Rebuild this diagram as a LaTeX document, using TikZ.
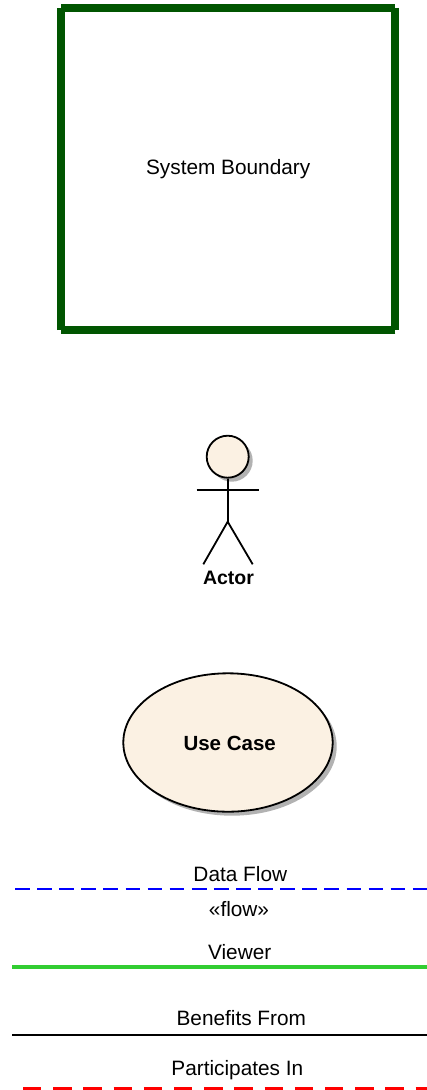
\documentclass[tikz,border=0pt]{standalone}
\usepackage{fontspec}
\setmainfont{Liberation Sans}
\usetikzlibrary{shadows, shapes.geometric}

\definecolor{bdgreen}{HTML}{005500}
\definecolor{ucfill}{HTML}{FBF1E3}
\definecolor{vwgreen}{HTML}{32CD32}

\begin{document}
\begin{tikzpicture}[x=1pt, y=-1pt,
      lbl/.style={anchor=base, inner sep=0pt, font=\fontsize{20.8}{24}\selectfont},
      bold/.style={lbl, font=\fontsize{19.5}{24}\selectfont\bfseries},
      bound/.style={minimum width=333.7pt, minimum height=322pt, inner sep=0pt, font=\fontsize{20.8}{24}\selectfont},
      edge/.style={line width=8.3pt, draw=bdgreen},
      shade/.style={drop shadow={shadow xshift=4pt, shadow yshift=-4pt, fill=gray!60, opacity=1}},
      stick/.style={line width=1.8pt},
      flow/.style={line width=2pt, draw=blue, dash pattern=on 14.7pt off 7.4pt},
      viewer/.style={line width=4pt, draw=vwgreen},
      benefit/.style={line width=2pt, draw=black},
      part/.style={line width=4pt, draw=red, dash pattern=on 18.3pt off 11.9pt}]
    \useasboundingbox (0,0) rectangle (427,1090);

    % System boundary, four separate sides
    \node[bound] (bd) at (228.2,169) {System Boundary};
    \draw[edge] (bd.north west) -- (bd.north east);
    \draw[edge] (bd.north east) -- (bd.south east);
    \draw[edge] (bd.south east) -- (bd.south west);
    \draw[edge] (bd.south west) -- (bd.north west);

    % Actor
    \node[circle, draw, stick, fill=ucfill, shade, minimum size=42pt, inner sep=0pt] (head) at (227.7,456.7) {};
    \coordinate (armL) at (196.7,490);
    \coordinate (armR) at (259,490);
    \coordinate (hip)  at (head.south |- 0,521.7);
    \coordinate (legL) at (203.3,564.3);
    \coordinate (legR) at (252.7,564.3);
    \draw[stick] (head.south) -- (hip);
    \draw[stick] (armL) -- (armR);
    \draw[stick] (legL) -- (hip) -- (legR);
    \node[bold] (actor) at (228.5,584.3) {Actor};

    % Use case
    \node[ellipse, draw, stick, fill=ucfill, shade, minimum width=209.4pt, minimum height=138.4pt, inner sep=0pt] (uc) at (228,742.5) {};
    \node[bold, font=\fontsize{20.5}{24}\selectfont\bfseries] (uclbl) at (229.7,750.7) {Use Case};

    % Legend lines
    \coordinate (f1) at (15,889.3);   \coordinate (f2) at (427,889.3);
    \coordinate (v1) at (12,967.3);   \coordinate (v2) at (427,967.3);
    \coordinate (b1) at (12,1035);    \coordinate (b2) at (427,1035);
    \coordinate (p1) at (23,1089);    \coordinate (p2) at (427,1089);
    \draw[flow] (f1) -- (f2);
    \draw[viewer] (v1) -- (v2);
    \draw[benefit] (b1) -- (b2);
    \draw[part] (p1) -- (p2);
    \node[lbl] (flowname) at (240.3,881)   {Data Flow};
    \node[lbl] (flowtag)  at (239,916.7)   {«flow»};
    \node[lbl] (viewname) at (239.7,959)   {Viewer};
    \node[lbl] (benename) at (241.3,1025)  {Benefits From};
    \node[lbl] (partname) at (237.3,1075)  {Participates In};
\end{tikzpicture}
\end{document}
